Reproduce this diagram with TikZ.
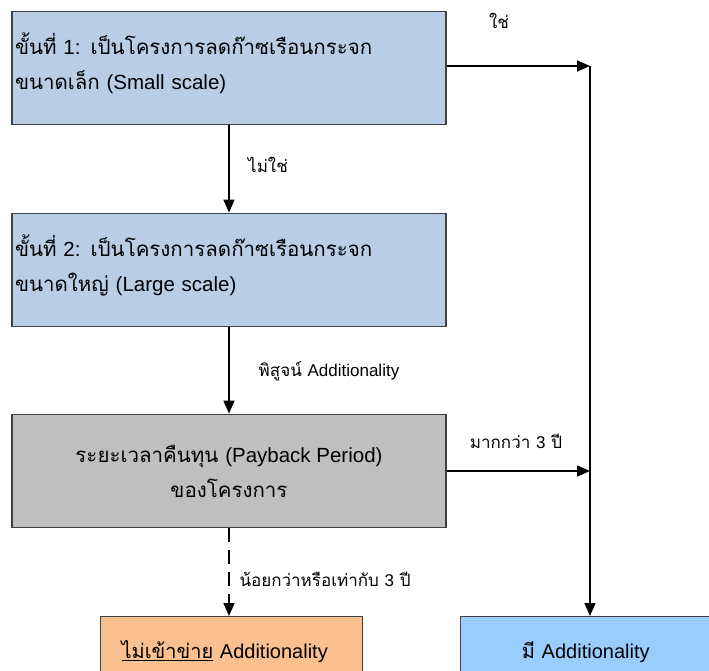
\documentclass[tikz,border=0pt]{standalone}
\usepackage{fontspec}
\setmainfont[Script=Thai]{Loma}
\newfontfamily\latin{Liberation Sans}
\usetikzlibrary{arrows.meta,positioning}
\definecolor{stepfill}{HTML}{B9CDE5}
\definecolor{paygray}{HTML}{BFBFBF}
\definecolor{nofill}{HTML}{FAC090}
\definecolor{yesfill}{HTML}{99CCFF}
\definecolor{edge}{HTML}{404040}

\begin{document}
\begin{tikzpicture}[
  x=1pt,y=-1pt,
  box/.style={draw=edge,line width=1.8pt,fill=#1,minimum width=434pt,minimum height=113pt,
    font=\fontsize{20.5}{35}\selectfont,inner sep=3pt},
  endbox/.style={draw=edge,line width=1.4pt,fill=#1,minimum height=70pt,anchor=north west,
    font=\fontsize{20}{24}\selectfont},
  arr/.style={-{Triangle[length=13pt,width=11pt]},line width=1.6pt},
  lbl/.style={font=\fontsize{17}{20}\selectfont},
]
  \useasboundingbox (0,0) rectangle (709,671);

  \node[box=stepfill,align=left,text width=428pt] (s1) at (229,68)
    {ขั้นที่ {\latin 1:} เป็นโครงการลดก๊าซเรือนกระจก\\ขนาดเล็ก {\latin (Small scale)}\\[-22pt]\mbox{}};
  \node[box=stepfill,align=left,text width=428pt] (s2) at (229,270)
    {ขั้นที่ {\latin 2:} เป็นโครงการลดก๊าซเรือนกระจก\\ขนาดใหญ่ {\latin (Large scale)}\\[-22pt]\mbox{}};
  \node[box=paygray,align=center] (pay) at (229,471)
    {ระยะเวลาคืนทุน {\latin (Payback Period)}\\ของโครงการ};
  \node[endbox=nofill,minimum width=262pt] (notadd) at (100,616)
    {\hspace*{-14pt}\underline{ไม่เข้าข่าย} {\latin Additionality}};
  \node[endbox=yesfill,minimum width=262pt] (isadd) at (460,616)
    {\hspace*{-12pt}มี {\latin Additionality}};

  \coordinate (yes) at (590,66);

  \draw[arr] (s1.east |- yes) -- (yes);
  \draw[arr] (yes) -- (yes |- isadd.north);
  \draw[arr] (s1) -- (s2);
  \draw[arr] (s2) -- (pay);
  \draw[arr] (pay) -- (pay -| yes);
  \draw[arr,dashed,dash pattern=on 14pt off 8pt] (pay) -- (pay |- notadd.north);

  % labels
  \node[lbl] (lyes) at (499,21) {ใช่};
  \node[lbl] (lno) at (268,165) {ไม่ใช่};
  \node[lbl] (lprove) at (329,371) {พิสูจน์ {\latin Additionality}};
  \node[lbl] (lmore) at (516,441) {มากกว่า {\latin 3} ปี};
  \node[lbl,anchor=west] (lless) at (236,579) {น้อยกว่าหรือเท่ากับ {\latin 3} ปี};
\end{tikzpicture}
\end{document}
